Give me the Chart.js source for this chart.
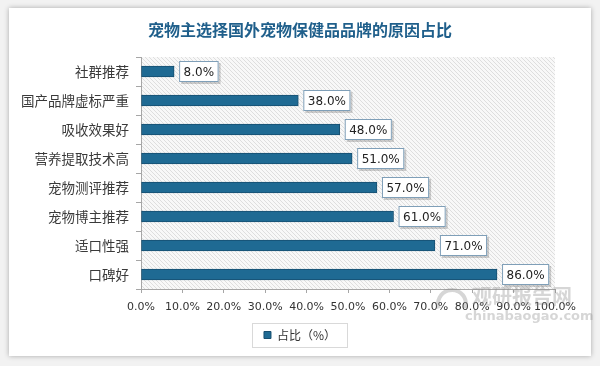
<!DOCTYPE html>
<html>
<head>
<meta charset="utf-8">
<script src="https://cdn.jsdelivr.net/npm/chart.js@4.4.0/dist/chart.umd.min.js"></script>
<style>
  html, body { margin: 0; padding: 0; background: #f2f2f2; }
  #card { position: absolute; left: 9px; top: 8px; width: 582px; height: 348px; background: #fff; box-shadow: 0 0 5px rgba(0,0,0,0.3); }
  #wrap { position: absolute; left: 0; top: 0; width: 600px; height: 366px; }
</style>
</head>
<body>
<div id="card"></div>
<div id="wrap"><canvas id="chart" width="600" height="366"></canvas></div>
<script>
const categories = ['社群推荐', '国产品牌虚标严重', '吸收效果好', '营养提取技术高', '宠物测评推荐', '宠物博主推荐', '适口性强', '口碑好'];
const shares = [8.0, 38.0, 48.0, 51.0, 57.0, 61.0, 71.0, 86.0];
const xTicks = [0, 10, 20, 30, 40, 50, 60, 70, 80, 90, 100];
const seriesName = '占比（%）';

const cjk = '"Noto Sans CJK SC", "Noto Sans", sans-serif';

// diagonal hatch for plot background
function makeHatch(ctx) {
  const c = document.createElement('canvas');
  c.width = 4; c.height = 4;
  const g = c.getContext('2d');
  g.fillStyle = '#f8f8f8';
  g.fillRect(0, 0, 4, 4);
  g.fillStyle = '#dedede';
  for (let i = 0; i < 4; i++) g.fillRect(i, i, 1, 1);
  return ctx.createPattern(c, 'repeat');
}

const plotBg = {
  id: 'plotBg',
  beforeDraw(chart) {
    const { ctx, chartArea: a } = chart;
    ctx.save();
    ctx.fillStyle = makeHatch(ctx);
    ctx.fillRect(a.left, a.top, a.right - a.left, a.bottom - a.top);
    ctx.restore();
  }
};

const barLabels = {
  id: 'barLabels',
  afterDatasetsDraw(chart) {
    const { ctx } = chart;
    const meta = chart.getDatasetMeta(0);
    ctx.save();
    ctx.font = '12px "DejaVu Sans", sans-serif';
    meta.data.forEach((bar, i) => {
      const txt = shares[i].toFixed(1) + '%';
      const w = ctx.measureText(txt).width + 9;
      const h = 21;
      const x = bar.x + 5;
      const y = bar.y - h / 2;
      ctx.fillStyle = 'rgba(0,0,0,0.18)';
      ctx.fillRect(x + 2, y + 2, w, h);
      ctx.fillStyle = '#fff';
      ctx.fillRect(x, y, w, h);
      ctx.strokeStyle = '#7f9fb8';
      ctx.lineWidth = 1;
      ctx.strokeRect(x + 0.5, y + 0.5, w - 1, h - 1);
      ctx.fillStyle = '#222';
      ctx.textBaseline = 'middle';
      ctx.textAlign = 'left';
      ctx.fillText(txt, x + 4.5, bar.y + 1);
    });
    ctx.restore();
  }
};

const extras = {
  id: 'extras',
  afterDraw(chart) {
    const { ctx } = chart;
    ctx.save();
    // legend frame
    const lg = chart.legend;
    if (lg && lg.legendHitBoxes.length) {
      const b = lg.legendHitBoxes[0];
      const cy = Math.round(b.top + b.height / 2);
      const cx = Math.round(b.left + b.width / 2);
      ctx.strokeStyle = '#d9d9d9';
      ctx.lineWidth = 1;
      ctx.strokeRect(cx - 47.5, cy - 11.5, 95, 24);
    }
    // watermark
    ctx.globalAlpha = 0.35;
    ctx.fillStyle = '#8a8a8a';
    ctx.font = 'bold 20px "Noto Sans CJK SC", sans-serif';
    ctx.textBaseline = 'middle';
    ctx.fillText('观研报告网', 472, 296);
    ctx.font = 'bold 13px "DejaVu Sans", sans-serif';
    ctx.fillText('chinabaogao.com', 465, 317);
    ctx.lineWidth = 4;
    ctx.strokeStyle = '#8a8a8a';
    ctx.beginPath();
    ctx.arc(452, 304, 14, Math.PI * 0.9, Math.PI * 2.1);
    ctx.stroke();
    ctx.restore();
  }
};

new Chart(document.getElementById('chart'), {
  type: 'bar',
  data: {
    labels: categories,
    datasets: [{
      label: seriesName,
      data: shares,
      backgroundColor: '#1f6a93',
      borderColor: '#174f70',
      borderWidth: 1,
      borderSkipped: false,
      barThickness: 11
    }]
  },
  options: {
    indexAxis: 'y',
    responsive: false,
    animation: false,
    layout: { padding: { left: 0, right: 0, top: 0, bottom: 15 } },
    plugins: {
      title: {
        display: true,
        text: '宠物主选择国外宠物保健品品牌的原因占比',
        color: '#1f5f8b',
        font: { family: cjk, size: 16, weight: 'bold', lineHeight: 1.2 },
        padding: { top: 20.4, bottom: 17.4 }
      },
      legend: {
        position: 'bottom',
        labels: {
          boxWidth: 7,
          boxHeight: 7,
          color: '#333',
          font: { family: cjk, size: 12 },
          padding: 10
        }
      },
      tooltip: { enabled: false }
    },
    scales: {
      x: {
        min: 0,
        max: 100,
        afterBuildTicks(s) { s.ticks = xTicks.map(v => ({ value: v })); },
        afterFit(s) { s.height = 30; },
        grid: { display: true, drawOnChartArea: false, color: '#a6a6a6', tickLength: 4 },
        border: { color: '#a6a6a6' },
        ticks: {
          color: '#333',
          padding: 8,
          maxRotation: 0,
          autoSkip: false,
          font: { family: '"DejaVu Sans", sans-serif', size: 11 },
          callback: v => v.toFixed(1) + '%'
        }
      },
      y: {
        afterFit(s) { s.width = 141; },
        grid: { display: true, drawOnChartArea: false, offset: true, color: '#a6a6a6', tickLength: 5 },
        border: { color: '#a6a6a6' },
        ticks: {
          color: '#3a3a3a',
          padding: 7,
          font: { family: cjk, size: 13.5 }
        }
      },
      yR: {
        type: 'category',
        position: 'right',
        afterFit(s) { s.width = 45; },
        grid: { display: false },
        border: { display: false },
        ticks: { display: false }
      }
    }
  },
  plugins: [plotBg, barLabels, extras]
});
</script>
</body>
</html>
